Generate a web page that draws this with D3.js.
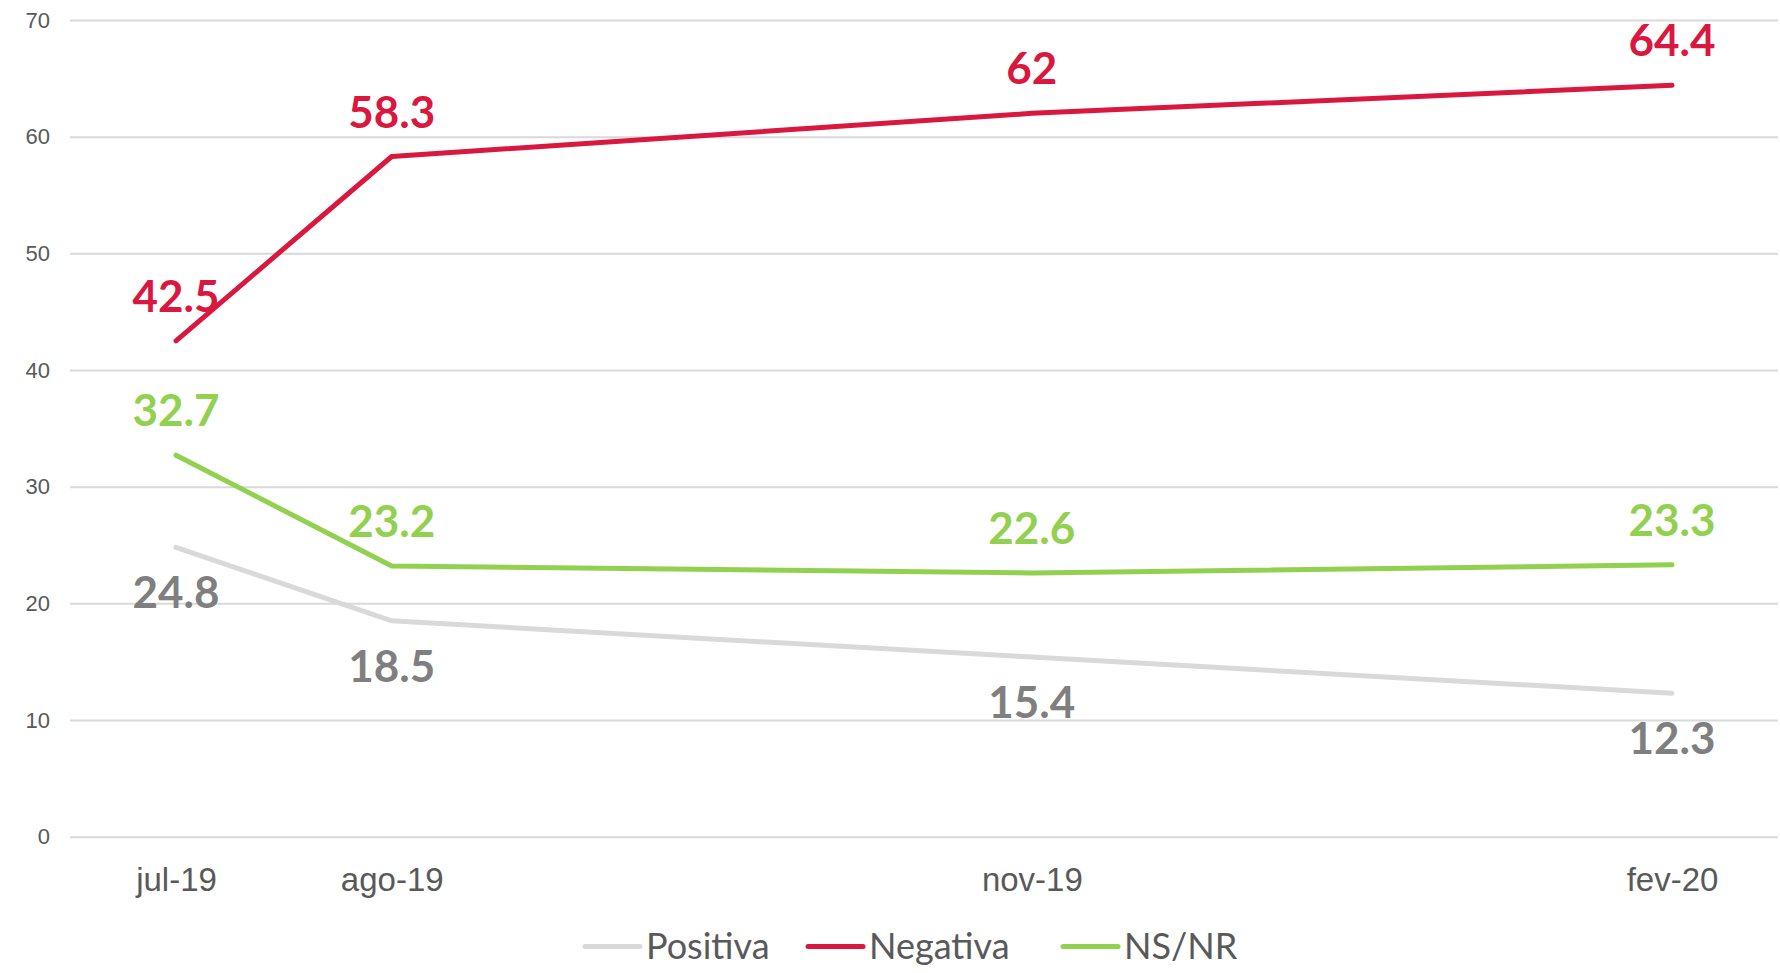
<!DOCTYPE html>
<html>
<head>
<meta charset="utf-8">
<script src="https://cdn.jsdelivr.net/npm/d3@7"></script>
<style>
	body { margin: 0; background: #fff; }
	svg { display: block; font-family: Lato, "Open Sans", sans-serif; }
	.grid line { stroke: #d9d9d9; stroke-width: 2; }
	.grid text { fill: #595959; font-size: 22px; }
	.xaxis text { fill: #595959; font-size: 33px; }
	.legend text { fill: #595959; font-size: 36px; }
	.value { font-weight: bold; font-size: 44px; text-anchor: middle; }
</style>
</head>
<body>
<script>
// data
var months = ['2019-07-01', '2019-08-01', '2019-11-01', '2020-02-01'];
var monthLabels = ['jul-19', 'ago-19', 'nov-19', 'fev-20'];
var positiva = [24.8, 18.5, 15.4, 12.3];
var negativa = [42.5, 58.3, 62, 64.4];
var nsnr = [32.7, 23.2, 22.6, 23.3];
var yTicks = [0, 10, 20, 30, 40, 50, 60, 70];

var parse = d3.timeParse('%Y-%m-%d');
var dates = months.map(parse);

var series = [
	{ name: 'Positiva', values: positiva, line: '#d9d9d9', label: '#7f7f7f', below: true },
	{ name: 'Negativa', values: negativa, line: '#d9173f', label: '#d9173f', below: false },
	{ name: 'NS/NR', values: nsnr, line: '#92d050', label: '#92d050', below: false }
];

var width = 1780, height = 973;
var plotLeft = 70, plotRight = 1778;

// date axis: months are not evenly spaced
var x = d3.scaleTime()
	.domain([dates[0], dates[dates.length - 1]])
	.range([176, 1672]);
var y = d3.scaleLinear()
	.domain([0, 70])
	.range([836.7, 20]);

var svg = d3.select('body').append('svg')
	.attr('width', width)
	.attr('height', height);

// gridlines + y labels
var grid = svg.append('g')
	.attr('class', 'grid')
	.attr('transform', 'translate(' + plotLeft + ',0)')
	.call(d3.axisLeft(y).tickValues(yTicks).tickSize(-(plotRight - plotLeft)).tickPadding(20));
grid.select('.domain').remove();

// x labels
var xaxis = svg.append('g')
	.attr('class', 'xaxis')
	.attr('transform', 'translate(0,' + y(0) + ')')
	.call(d3.axisBottom(x).tickValues(dates).tickSize(0).tickPadding(31)
		.tickFormat(function(d, i) { return monthLabels[i]; }));
xaxis.select('.domain').remove();

var line = d3.line()
	.x(function(d, i) { return x(dates[i]); })
	.y(function(d) { return y(d); });

series.forEach(function(s) {
	svg.append('path')
		.datum(s.values)
		.attr('fill', 'none')
		.attr('stroke', s.line)
		.attr('stroke-width', 5)
		.attr('stroke-linecap', 'round')
		.attr('stroke-linejoin', 'round')
		.attr('d', line);
});

// value labels drawn after lines
series.forEach(function(s) {
	svg.append('g').selectAll('text')
		.data(s.values)
		.join('text')
		.attr('class', 'value')
		.attr('fill', s.label)
		.attr('x', function(d, i) { return x(dates[i]); })
		.attr('y', function(d) { return y(d) + (s.below ? 61 : -29); })
		.text(function(d) { return d; });
});

// legend
var legendX = [585, 808, 1063];
var legend = svg.append('g').attr('class', 'legend');
series.forEach(function(s, i) {
	legend.append('line')
		.attr('x1', legendX[i]).attr('x2', legendX[i] + 55)
		.attr('y1', 946.5).attr('y2', 946.5)
		.attr('stroke', s.line)
		.attr('stroke-width', 5)
		.attr('stroke-linecap', 'round');
	legend.append('text')
		.attr('x', legendX[i] + 61)
		.attr('y', 959)
		.text(s.name);
});
</script>
</body>
</html>
